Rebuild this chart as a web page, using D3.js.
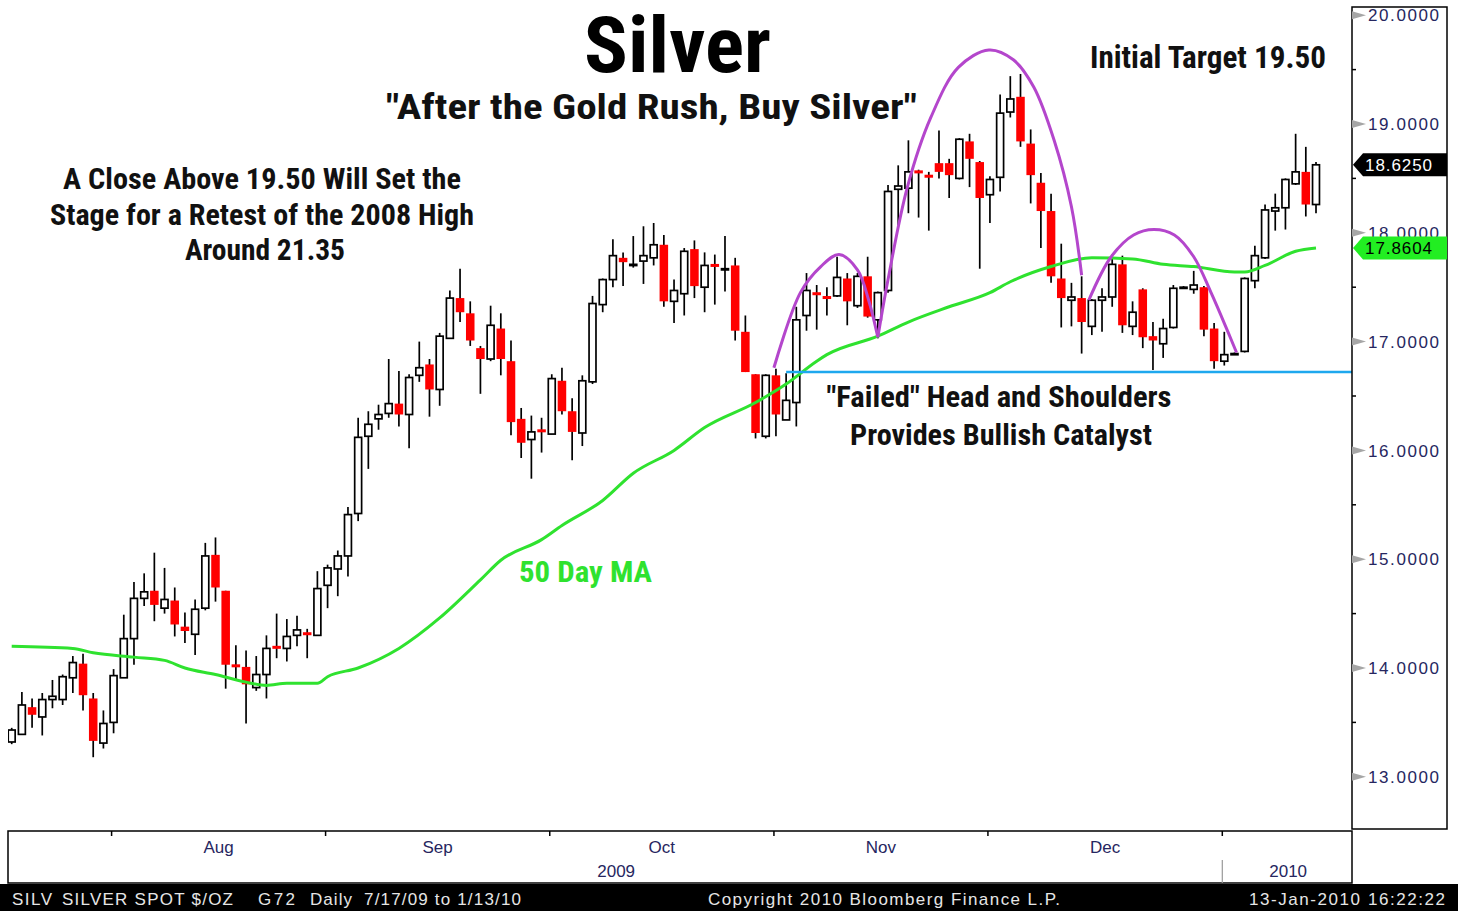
<!DOCTYPE html>
<html>
<head>
<meta charset="utf-8">
<script src="https://cdn.jsdelivr.net/npm/d3@7"></script>
<style>
body{margin:0;background:#fff;}
svg{display:block;font-family:"Liberation Sans",Arial,sans-serif;}
.note{font-family:"Liberation Sans Narrow","Roboto Condensed",Roboto,"Liberation Sans",sans-serif;font-weight:bold;fill:#111;}
.axisLabel{font-size:17px;fill:#262660;}
.footer{font-size:17px;fill:#e6e6e6;}
</style>
</head>
<body>
<svg id="chart"></svg>
<script>
// daily silver spot, 7/17/09 to 1/13/10 (one entry per weekday)
var opens = [13.32,13.39,13.64,13.55,13.71,13.71,13.91,14.04,13.72,13.31,13.50,13.91,14.27,14.64,14.71,14.55,14.62,14.38,14.31,14.55,
    15.04,14.71,14.03,14.01,13.82,13.94,14.20,14.18,14.30,14.32,14.30,14.76,14.91,15.03,15.42,16.13,16.29,16.34,16.43,16.33,
    16.69,16.79,16.56,17.03,17.40,17.26,16.94,16.84,17.12,16.82,16.29,16.10,16.19,16.15,16.64,16.36,16.16,16.63,17.34,17.57,
    17.77,17.71,17.74,17.77,17.89,17.37,17.44,17.85,17.50,17.71,17.67,17.70,17.09,16.70,16.13,16.69,16.28,16.44,17.24,17.45,
    17.41,17.42,17.58,17.33,17.60,17.20,17.47,18.40,18.41,18.57,18.53,18.64,18.64,18.50,18.84,18.65,18.35,18.51,19.11,19.25,
    18.82,18.46,18.20,17.58,17.38,17.40,17.14,17.38,17.41,17.71,17.14,17.48,17.05,16.98,17.13,17.50,17.48,17.50,17.12,16.82,
    16.89,16.91,17.56,17.77,18.20,18.23,18.45,18.56,18.26]
var highs = [13.45,13.78,13.72,13.77,13.89,13.94,14.11,14.13,13.77,13.61,13.99,14.49,14.79,14.87,15.06,14.92,14.74,14.51,14.63,15.15,
    15.20,14.71,14.21,14.16,14.11,14.30,14.50,14.45,14.48,14.36,14.89,14.95,15.08,15.48,16.30,16.36,16.42,16.84,16.73,16.70,
    17.00,16.84,17.08,17.47,17.67,17.37,16.96,17.33,17.26,17.01,16.39,16.32,16.30,16.70,16.76,16.48,16.69,17.42,17.58,17.94,
    17.82,17.97,18.06,18.09,17.98,17.57,17.86,17.93,17.82,17.80,17.97,17.77,17.24,16.70,16.70,16.75,16.71,17.32,17.63,17.52,
    17.50,17.78,17.63,17.63,17.78,17.46,18.44,18.62,18.85,18.58,18.56,18.94,18.68,18.87,18.91,18.66,18.52,19.27,19.44,19.46,
    18.95,18.55,18.36,17.90,17.54,17.60,17.39,17.49,17.80,17.79,17.37,17.49,17.18,17.21,17.52,17.51,17.65,17.51,17.17,17.09,
    16.90,17.59,17.88,18.26,18.36,18.50,18.91,18.79,18.65]
var lows = [13.30,13.39,13.45,13.38,13.63,13.66,13.77,13.61,13.18,13.26,13.40,13.91,14.03,14.57,14.43,14.50,14.29,14.23,14.12,14.53,
    14.61,13.81,13.89,13.49,13.79,13.72,14.09,14.06,14.20,14.09,14.30,14.55,14.66,14.84,15.35,15.83,16.19,16.30,16.22,16.02,
    16.63,16.31,16.41,17.03,17.18,16.96,16.52,16.82,16.69,16.14,15.93,15.74,15.98,16.15,16.33,15.91,16.04,16.61,17.27,17.50,
    17.51,17.68,17.53,17.70,17.32,17.17,17.24,17.40,17.27,17.34,17.46,17.01,16.72,16.11,16.11,16.13,16.28,16.22,17.10,17.11,
    17.24,17.41,17.15,17.31,17.22,17.03,17.45,18.07,18.18,18.14,18.02,18.50,18.32,18.49,18.42,17.67,18.09,18.38,19.06,18.79,
    18.27,17.86,17.54,17.13,17.14,16.89,17.06,17.09,17.32,17.08,17.06,16.94,16.74,16.85,17.12,17.49,17.44,17.05,16.75,16.78,
    16.88,16.90,17.49,17.76,18.02,18.03,18.44,18.15,18.18]
var closes = [13.43,13.66,13.57,13.71,13.74,13.92,14.05,13.75,13.33,13.49,13.93,14.27,14.64,14.70,14.58,14.63,14.40,14.34,14.54,15.03,
    14.74,14.03,14.01,13.85,13.94,14.18,14.18,14.29,14.35,14.31,14.73,14.92,15.03,15.41,16.12,16.24,16.33,16.43,16.33,16.67,
    16.76,16.56,17.05,17.40,17.27,17.01,16.84,17.15,16.84,16.26,16.07,16.17,16.17,16.66,16.36,16.17,16.64,17.35,17.57,17.79,
    17.73,17.71,17.79,17.89,17.37,17.47,17.83,17.51,17.70,17.69,17.67,17.10,16.72,16.16,16.69,16.33,16.46,17.20,17.47,17.43,
    17.40,17.59,17.37,17.60,17.23,17.45,18.38,18.43,18.56,18.55,18.51,18.56,18.53,18.86,18.68,18.32,18.49,19.10,19.23,18.84,
    18.53,18.20,17.60,17.40,17.41,17.18,17.38,17.41,17.71,17.15,17.27,17.04,17.01,17.12,17.49,17.50,17.52,17.11,16.82,16.88,
    16.89,17.58,17.79,18.21,18.23,18.49,18.56,18.26,18.625]

// 50 day moving average (day index, value)
var maIdx = [0,6,8,12,15,17,20,23,25,27,30,31,34,38,42,46,48,52,54,58,61,65,68,73,76,79,80,85,88,92,96,98,102,106,110,113,116,120,121,123,126,128]
var maVal = [14.20,14.18,14.14,14.10,14.07,14.00,13.94,13.87,13.84,13.86,13.86,13.92,14.00,14.18,14.46,14.81,14.99,15.18,15.31,15.54,15.79,16.00,16.21,16.44,16.61,16.82,16.88,17.05,17.18,17.32,17.45,17.55,17.69,17.77,17.76,17.71,17.69,17.64,17.64,17.70,17.83,17.8604]

// head and shoulders arcs (day index, price)
var leftShoulder = [[74.8,16.76],[77.4,17.45],[79.4,17.69],[81.2,17.80],[83.0,17.66],[84.1,17.38],[85.0,17.04]]
var headArc = [[85.0,17.04],[86.0,17.57],[87.9,18.42],[90.2,19.06],[92.9,19.52],[95.9,19.68],[98.3,19.59],[100.3,19.34],[102.3,18.85],[104.0,18.24],[105.0,17.61]]
var rightShoulder = [[105.7,17.38],[107.9,17.78],[110.1,17.98],[112.1,18.03],[114.1,17.98],[116.0,17.78],[117.7,17.45],[119.4,17.08],[120.2,16.90]]
var neckValue = 16.72
var neckStart = 76

var majorTicks = [13,14,15,16,17,18,19,20]
var minorTicks = [13.5,14.5,15.5,16.5,17.5,18.5,19.5]

var startDay = new Date(2009,6,17)
var endDay = new Date(2010,0,14)

var screen = {width:1458,height:911}
var plot = {left:8,right:1352,top:7,bottom:831}

var svg = d3.select("#chart")
    .attr("width",screen.width)
    .attr("height",screen.height)

var days = d3.timeDay.range(startDay,endDay).filter(function(d){
    return d.getDay()!=0 && d.getDay()!=6
})

var xScale = d3.scaleBand()
    .domain(d3.range(days.length))
    .range([6.6,1321.1])
    .paddingInner(0.32)
    .paddingOuter(0.16)

var yScale = d3.scaleLinear()
    .domain([13,20])
    .range([776.8,15.2])

var cx = function(i)
{
    return xScale(0)+xScale.step()*i+xScale.bandwidth()/2
}

var drawCandles = function(target)
{
    var candles = days.map(function(d,i){
        return {i:i,o:opens[i],h:highs[i],l:lows[i],c:closes[i]}
    })

    target.selectAll("line.wick")
        .data(candles)
        .enter()
        .append("line")
        .classed("wick",true)
        .attr("x1",function(d){return cx(d.i)})
        .attr("x2",function(d){return cx(d.i)})
        .attr("y1",function(d){return yScale(d.h)})
        .attr("y2",function(d){return yScale(d.l)})
        .attr("stroke","#000")
        .attr("stroke-width",1.7)

    var bw = xScale.bandwidth()
    target.selectAll("rect.body")
        .data(candles)
        .enter()
        .append("rect")
        .classed("body",true)
        .attr("x",function(d){return d.c>=d.o ? xScale(d.i) : xScale(d.i)-0.8})
        .attr("width",function(d){return d.c>=d.o ? bw : bw+1.6})
        .attr("y",function(d){
            var h = Math.abs(yScale(d.o)-yScale(d.c))
            var top = yScale(Math.max(d.o,d.c))
            if(d.c<d.o && h<3) top = top-(3-h)/2
            return top
        })
        .attr("height",function(d){
            var h = Math.abs(yScale(d.o)-yScale(d.c))
            return d.c>=d.o ? Math.max(h,1.2) : Math.max(h,3)
        })
        .attr("fill",function(d){return d.c>=d.o ? "#fff" : "#ff0000"})
        .attr("stroke",function(d){return d.c>=d.o ? "#000" : "none"})
        .attr("stroke-width",1.7)
}

var drawOverlays = function(target)
{
    var ma = maIdx.map(function(d,k){return {idx:d,val:maVal[k]}})

    var maLine = d3.line()
        .x(function(d){return cx(d.idx)})
        .y(function(d){return yScale(d.val)})
        .curve(d3.curveMonotoneX)

    target.append("path")
        .datum(ma)
        .attr("d",maLine)
        .attr("fill","none")
        .attr("stroke","#2fe22f")
        .attr("stroke-width",3)

    //neckline
    target.append("line")
        .attr("x1",cx(neckStart))
        .attr("x2",plot.right)
        .attr("y1",yScale(neckValue))
        .attr("y2",yScale(neckValue))
        .attr("stroke","#1ea8ee")
        .attr("stroke-width",2.5)

    var arcLine = d3.line()
        .x(function(d){return cx(d[0])})
        .y(function(d){return yScale(d[1])})
        .curve(d3.curveCatmullRom)

    target.selectAll("path.arc")
        .data([leftShoulder,headArc,rightShoulder])
        .enter()
        .append("path")
        .classed("arc",true)
        .attr("d",arcLine)
        .attr("fill","none")
        .attr("stroke","#b446cc")
        .attr("stroke-width",3)
}

var drawPriceAxis = function()
{
    var axis = svg.append("g")

    axis.append("rect")
        .attr("x",plot.right)
        .attr("y",plot.top)
        .attr("width",95)
        .attr("height",plot.bottom-plot.top-2)
        .attr("fill","#fff")
        .attr("stroke","#000")
        .attr("stroke-width",1.5)

    axis.selectAll("line.minor")
        .data(minorTicks)
        .enter()
        .append("line")
        .classed("minor",true)
        .attr("x1",plot.right)
        .attr("x2",plot.right+4)
        .attr("y1",function(d){return yScale(d)})
        .attr("y2",function(d){return yScale(d)})
        .attr("stroke","#000")
        .attr("stroke-width",1.5)

    axis.selectAll("path.tri")
        .data(majorTicks)
        .enter()
        .append("path")
        .classed("tri",true)
        .attr("d",function(d){
            var y = yScale(d)
            return "M"+plot.right+","+(y-4)+"L"+(plot.right+14)+","+y+"L"+plot.right+","+(y+4)+"Z"
        })
        .attr("fill","#a6a6a6")

    axis.selectAll("text.tick")
        .data(majorTicks)
        .enter()
        .append("text")
        .classed("axisLabel",true)
        .attr("x",plot.right+16)
        .attr("y",function(d){return yScale(d)})
        .attr("dy","0.36em")
        .attr("textLength",71)
        .text(d3.format(".4f"))

    var tags = [
        {val:closes[closes.length-1],fill:"#000",color:"#fff"},
        {val:maVal[maVal.length-1],fill:"#22ee22",color:"#000"}
    ]

    var tag = axis.selectAll("g.tag")
        .data(tags)
        .enter()
        .append("g")
        .attr("transform",function(d){return "translate("+plot.right+","+yScale(d.val)+")"})

    tag.append("path")
        .attr("d","M1,0L11,-11.5L95,-11.5L95,11.5L11,11.5Z")
        .attr("fill",function(d){return d.fill})

    tag.append("text")
        .attr("x",13)
        .attr("dy","0.36em")
        .attr("textLength",67)
        .style("font-size","17px")
        .attr("fill",function(d){return d.color})
        .text(function(d){return d3.format(".4f")(d.val)})
}

var drawDateAxis = function()
{
    var axis = svg.append("g")

    axis.append("rect")
        .attr("x",plot.left)
        .attr("y",plot.bottom)
        .attr("width",plot.right-plot.left)
        .attr("height",52)
        .attr("fill","none")
        .attr("stroke","#000")
        .attr("stroke-width",1.5)

    var ends = []
    var yearEnd = -1
    for(var i=0;i<days.length-1;i++)
    {
        if(days[i].getMonth()!=days[i+1].getMonth()) ends.push(i)
        if(days[i].getFullYear()!=days[i+1].getFullYear()) yearEnd = i
    }

    axis.selectAll("line.mtick")
        .data(ends)
        .enter()
        .append("line")
        .attr("x1",function(d){return cx(d)-2})
        .attr("x2",function(d){return cx(d)-2})
        .attr("y1",plot.bottom)
        .attr("y2",plot.bottom+5)
        .attr("stroke","#000")
        .attr("stroke-width",1.5)

    var months = ends.slice(0,-1).map(function(d,k){
        return {x:(cx(d)+cx(ends[k+1]))/2-2,name:d3.timeFormat("%b")(days[d+1])}
    })

    axis.selectAll("text.month")
        .data(months)
        .enter()
        .append("text")
        .classed("axisLabel",true)
        .attr("x",function(d){return d.x})
        .attr("y",plot.bottom+22)
        .attr("text-anchor","middle")
        .text(function(d){return d.name})

    axis.append("line")
        .attr("x1",cx(yearEnd)-2)
        .attr("x2",cx(yearEnd)-2)
        .attr("y1",plot.bottom+29)
        .attr("y2",plot.bottom+52)
        .attr("stroke","#999")
        .attr("stroke-width",1.2)

    var years = [
        {x:(plot.left+cx(yearEnd))/2,name:days[0].getFullYear()},
        {x:(cx(yearEnd)+plot.right)/2,name:days[days.length-1].getFullYear()}
    ]

    axis.selectAll("text.year")
        .data(years)
        .enter()
        .append("text")
        .classed("axisLabel",true)
        .attr("x",function(d){return d.x})
        .attr("y",plot.bottom+46)
        .attr("text-anchor","middle")
        .text(function(d){return d.name})
}

var drawFooter = function()
{
    var footer = svg.append("g")

    footer.append("rect")
        .attr("x",0)
        .attr("y",884)
        .attr("width",screen.width)
        .attr("height",screen.height-884)
        .attr("fill","#000")

    var parts = [
        {text:"SILV",x:12,len:40},
        {text:"SILVER SPOT $/OZ",x:62,len:171},
        {text:"G72",x:258,len:37},
        {text:"Daily",x:310,len:42},
        {text:"7/17/09 to 1/13/10",x:364,len:157},
        {text:"Copyright 2010 Bloomberg Finance L.P.",x:708,len:352},
        {text:"13-Jan-2010 16:22:22",x:1249,len:196}
    ]

    footer.selectAll("text")
        .data(parts)
        .enter()
        .append("text")
        .classed("footer",true)
        .attr("x",function(d){return d.x})
        .attr("y",905)
        .attr("textLength",function(d){return d.len})
        .text(function(d){return d.text})
}

var drawNotes = function()
{
    var notes = [
        {text:"Silver",x:677.5,y:72,size:78,len:187,anchor:"middle",fill:"#000"},
        {text:"\"After the Gold Rush, Buy Silver\"",x:651.5,y:119,size:35,len:531,anchor:"middle",fill:"#111"},
        {text:"Initial Target 19.50",x:1090,y:68,size:31,len:236,anchor:"start",fill:"#111"},
        {text:"A Close Above 19.50 Will Set the",x:262,y:189,size:30,len:398,anchor:"middle",fill:"#111"},
        {text:"Stage for a Retest of the 2008 High",x:262,y:225,size:30,len:424,anchor:"middle",fill:"#111"},
        {text:"Around 21.35",x:265,y:260,size:30,len:160,anchor:"middle",fill:"#111"},
        {text:"\"Failed\" Head and Shoulders",x:999,y:406.5,size:30,len:345,anchor:"middle",fill:"#111"},
        {text:"Provides Bullish Catalyst",x:1001,y:445,size:30,len:302,anchor:"middle",fill:"#111"},
        {text:"50 Day MA",x:519,y:582,size:30,len:133,anchor:"start",fill:"#2fe22f"}
    ]

    svg.append("g")
        .selectAll("text")
        .data(notes)
        .enter()
        .append("text")
        .classed("note",true)
        .attr("x",function(d){return d.x})
        .attr("y",function(d){return d.y})
        .attr("text-anchor",function(d){return d.anchor})
        .attr("textLength",function(d){return d.len})
        .attr("lengthAdjust","spacingAndGlyphs")
        .style("font-size",function(d){return d.size+"px"})
        .style("fill",function(d){return d.fill})
        .text(function(d){return d.text})
}

svg.append("clipPath")
    .attr("id","plotClip")
    .append("rect")
    .attr("x",plot.left)
    .attr("y",plot.top)
    .attr("width",plot.right-plot.left)
    .attr("height",plot.bottom-plot.top)

var target = svg.append("g")
    .attr("clip-path","url(#plotClip)")

drawCandles(target)
drawOverlays(target)
drawNotes()
drawPriceAxis()
drawDateAxis()
drawFooter()
</script>
</body>
</html>
